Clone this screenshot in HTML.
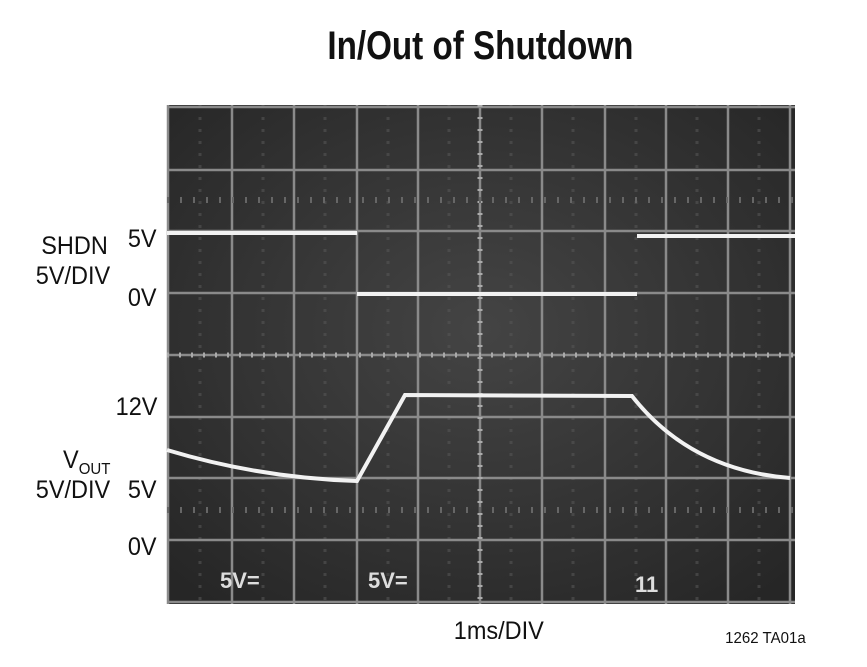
<!DOCTYPE html>
<html><head><style>
body{margin:0;background:#fff;width:867px;height:667px;overflow:hidden;position:relative;font-family:"Liberation Sans",sans-serif}
.t{position:absolute;color:#111;font-size:25px;line-height:25px;transform:scaleX(0.94);transform-origin:right top;text-align:right;white-space:nowrap}
</style></head><body>
<div style="position:absolute;left:47px;width:867px;top:24px;text-align:center;font-size:40px;font-weight:bold;color:#111;"><span style="display:inline-block;transform:scaleX(0.83)">In/Out of Shutdown</span></div>
<svg style="position:absolute;left:0;top:0" width="867" height="667">
<defs><radialGradient id="g" cx="0.5" cy="0.45" r="0.7"><stop offset="0" stop-color="#444"/><stop offset="1" stop-color="#262626"/></radialGradient></defs>
<rect x="167" y="105" width="628" height="499" fill="url(#g)"/>
<g stroke="#555" stroke-width="3" stroke-dasharray="3 9" opacity="0.6">
<line x1="200" y1="105" x2="200" y2="604"/><line x1="263" y1="105" x2="263" y2="604"/>
<line x1="325" y1="105" x2="325" y2="604"/><line x1="388" y1="105" x2="388" y2="604"/>
<line x1="449" y1="105" x2="449" y2="604"/><line x1="511" y1="105" x2="511" y2="604"/>
<line x1="573" y1="105" x2="573" y2="604"/><line x1="636" y1="105" x2="636" y2="604"/>
<line x1="697" y1="105" x2="697" y2="604"/><line x1="759" y1="105" x2="759" y2="604"/>
</g>
<g stroke="#8a8a8a" stroke-width="2.5">
<line x1="168" y1="105" x2="168" y2="604"/>
<line x1="232" y1="105" x2="232" y2="604"/><line x1="294" y1="105" x2="294" y2="604"/>
<line x1="357" y1="105" x2="357" y2="604"/><line x1="418" y1="105" x2="418" y2="604"/>
<line x1="480" y1="105" x2="480" y2="604"/><line x1="542" y1="105" x2="542" y2="604"/>
<line x1="605" y1="105" x2="605" y2="604"/><line x1="666" y1="105" x2="666" y2="604"/>
<line x1="728" y1="105" x2="728" y2="604"/><line x1="790" y1="105" x2="790" y2="604"/>
<line x1="167" y1="107" x2="795" y2="107"/><line x1="167" y1="170" x2="795" y2="170"/>
<line x1="167" y1="231" x2="795" y2="231"/><line x1="167" y1="293" x2="795" y2="293"/>
<line x1="167" y1="355" x2="795" y2="355"/><line x1="167" y1="417" x2="795" y2="417"/>
<line x1="167" y1="478" x2="795" y2="478"/><line x1="167" y1="540" x2="795" y2="540"/>
<line x1="167" y1="602" x2="795" y2="602"/>
</g>
<g stroke="#aaa" stroke-width="5" stroke-dasharray="2 10">
<line x1="167" y1="355" x2="795" y2="355"/>
<line x1="480" y1="105" x2="480" y2="604"/>
</g>
<g stroke="#666" stroke-width="6" stroke-dasharray="2 11">
<line x1="167" y1="200" x2="795" y2="200"/><line x1="167" y1="510" x2="795" y2="510"/>
</g>
<g fill="none" stroke="#f2f2f2" stroke-width="4">
<polyline points="167,233 357,233"/>
<polyline points="357,294 637,294"/>
<polyline points="637,236 795,236"/>
<path d="M167,450 Q260,478 357,481 L405,395 L632,396 Q690,470 790,478"/>
</g>
<g fill="#ddd" font-family="Liberation Sans,sans-serif" font-weight="bold" font-size="22">
<text x="220" y="588">5V=</text><text x="368" y="588">5V=</text><text x="635" y="592">11</text>
</g>
</svg>
<div class="t" style="right:759px;top:234px">SHDN</div>
<div class="t" style="right:710px;top:227px">5V</div>
<div class="t" style="right:757px;top:264px">5V/DIV</div>
<div class="t" style="right:710px;top:286px">0V</div>
<div class="t" style="right:710px;top:395px">12V</div>
<div class="t" style="right:757px;top:448px">V<sub style="font-size:16px">OUT</sub></div>
<div class="t" style="right:757px;top:478px">5V/DIV</div>
<div class="t" style="right:710px;top:478px">5V</div>
<div class="t" style="right:710px;top:535px">0V</div>
<div class="t" style="right:323px;top:619px">1ms/DIV</div>
<div class="t" style="right:61px;top:626px;font-size:16px">1262 TA01a</div>
</body></html>
